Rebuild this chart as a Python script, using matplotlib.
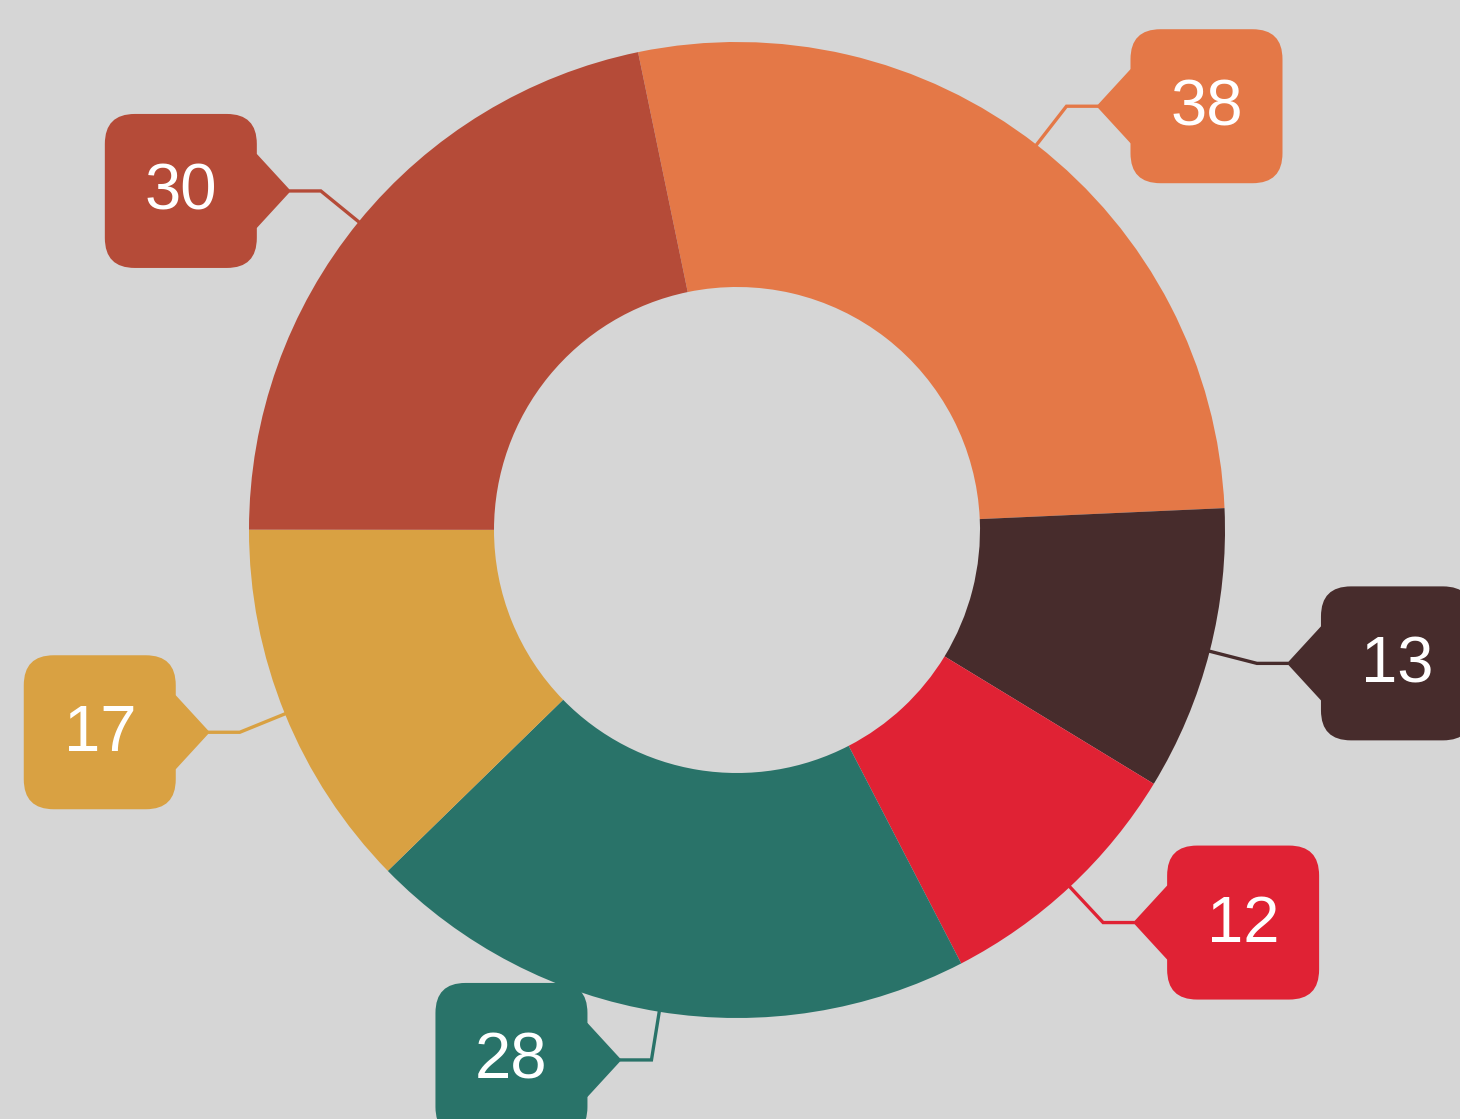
import matplotlib.pyplot as plt
import numpy as np
from matplotlib.patches import FancyBboxPatch, Polygon

# slice values, clockwise from the top
values = [38, 13, 12, 28, 17, 30]
labels = ["38", "13", "12", "28", "17", "30"]
colors = ["#E47847", "#472C2C", "#E02234", "#297369", "#D9A142", "#B54B38"]

W, H = 1460, 1119
fig = plt.figure(figsize=(W / 100, H / 100), dpi=100)
fig.patch.set_facecolor("#D6D6D6")
ax = fig.add_axes([0, 0, 1, 1])
ax.set_facecolor("#D6D6D6")

cx, cy = 737, H - 530
R = 488

wedges, _ = ax.pie(values, colors=colors, startangle=101.7, counterclock=False,
                   radius=R, center=(cx, cy),
                   wedgeprops=dict(width=245, linewidth=0))

# callout boxes
for w, lab, col in zip(wedges, labels, colors):
    mid = np.deg2rad((w.theta1 + w.theta2) / 2)
    x0, y0 = cx + R * np.cos(mid), cy + R * np.sin(mid)
    ex, ey = cx + 1.1 * R * np.cos(mid), cy + 1.1 * R * np.sin(mid)
    s = 1 if np.cos(mid) >= 0 else -1
    tipx = ex + s * 30
    bx = ex + s * 140
    edge = bx - s * 76
    ax.plot([x0, ex, tipx], [y0, ey, ey], color=col, lw=2.4,
            solid_joinstyle="miter", zorder=2)
    ax.add_patch(Polygon([[tipx, ey], [edge, ey + 37], [edge + s * 20, ey + 37],
                          [edge + s * 20, ey - 37], [edge, ey - 37]],
                         closed=True, facecolor=col, edgecolor="none", zorder=3))
    ax.add_patch(FancyBboxPatch((bx - 46, ey - 47), 92, 94,
                                boxstyle="round,pad=30,rounding_size=30",
                                facecolor=col, edgecolor="none", zorder=3))
    ax.text(bx, ey - 2, lab, color="white", fontsize=47, family="Liberation Sans",
            ha="center", va="center", zorder=4)

ax.set_xlim(0, W)
ax.set_ylim(0, H)
ax.set_aspect("equal")
ax.axis("off")

fig.savefig("out.png", dpi=100, facecolor=fig.get_facecolor())
